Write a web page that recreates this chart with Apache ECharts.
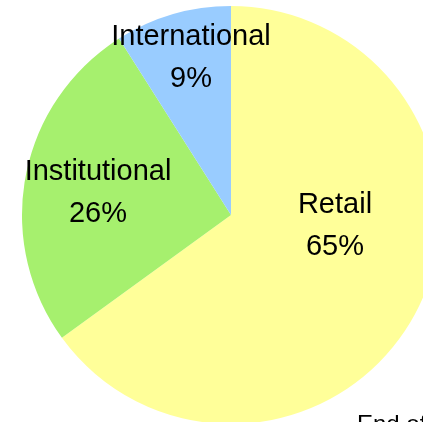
<!DOCTYPE html>
<html>
<head>
<meta charset="utf-8">
<script src="https://cdn.jsdelivr.net/npm/echarts@6/dist/echarts.min.js"></script>
<style>
  html, body { margin: 0; padding: 0; background: #fff; }
  #pieChart { width: 423px; height: 422px; }
</style>
</head>
<body>
<div id="pieChart"></div>
<script>
var categories = ["Retail", "Institutional", "International"]
var shares = [65, 26, 9]
var colors = ["#ffff99", "#a6f06e", "#99ccff"]
// where each label block sits (centre of the two lines)
var labelSpots = [[335, 226], [98, 193], [191, 58]]

function getPieChart(ele){
    var chart = echarts.init(ele)
    var pieData = []

    categories.forEach(function(name, index){
        pieData.push({
            name : name,
            value : shares[index],
            itemStyle : { color : colors[index] }
        })
    })

    var option = {
        animation: false,
        series: [
            {
              type: 'pie',
              center: [231, 215],
              radius: 209,
              startAngle: 90,
              clockwise: true,
              data: pieData,
              label: {
                  show: true,
                  position: 'inside',
                  formatter: '{b}\n{c}%',
                  fontFamily: 'Liberation Sans, Arial, sans-serif',
                  fontSize: 29,
                  lineHeight: 42,
                  color: '#000',
                  align: 'center',
                  verticalAlign: 'middle'
              },
              labelLine: { show: false },
              labelLayout: function(params){
                  var p = labelSpots[params.dataIndex]
                  return { x: p[0], y: p[1], align: 'center', verticalAlign: 'middle' }
              },
              emphasis: { disabled: true }
            }
        ],
        graphic: [
            {
              type: 'text',
              left: 357,
              top: 413,
              style: {
                  text: 'End of year',
                  font: '24px Liberation Sans, Arial, sans-serif',
                  fill: '#000'
              }
            }
        ]
    }
    chart.setOption(option)
}

getPieChart(document.getElementById("pieChart"))
</script>
</body>
</html>
